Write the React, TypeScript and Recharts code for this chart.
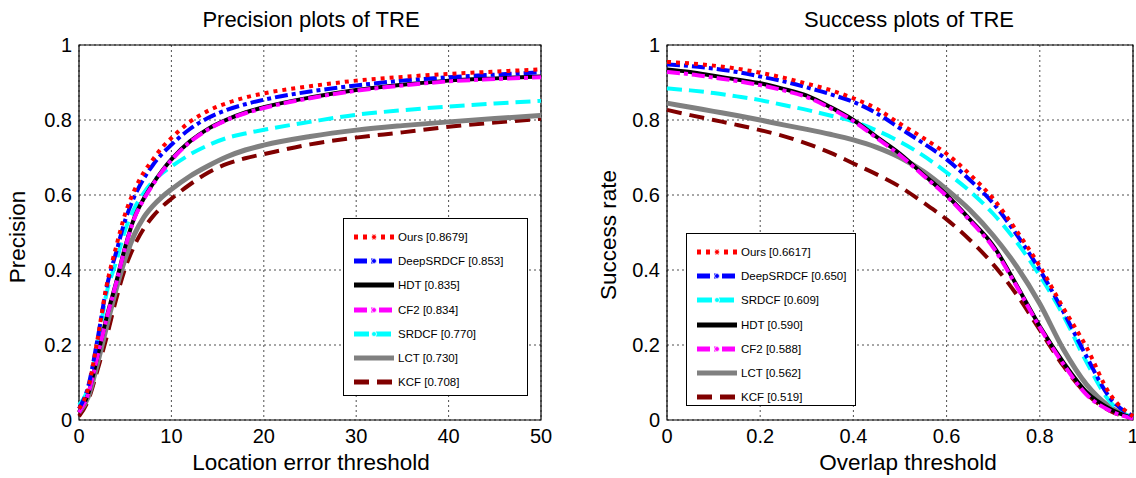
import { LineChart, Line, XAxis, YAxis, CartesianGrid, ReferenceArea } from 'recharts';

// precision plot (location error threshold, px)
const errorThresholds = [0, 1, 2, 3, 4, 5, 6, 7, 8, 9, 10, 12, 14, 16, 18, 20, 25, 30, 35, 40, 45, 50];
const precOurs = [0.03, 0.085, 0.215, 0.36, 0.46, 0.55, 0.613, 0.66, 0.695, 0.727, 0.752, 0.795, 0.825, 0.845, 0.86, 0.871, 0.89, 0.905, 0.915, 0.923, 0.929, 0.935];
const precDeep = [0.03, 0.09, 0.215, 0.355, 0.445, 0.533, 0.596, 0.643, 0.68, 0.71, 0.734, 0.776, 0.806, 0.827, 0.842, 0.854, 0.876, 0.892, 0.905, 0.914, 0.921, 0.927];
const precHdt = [0.02, 0.07, 0.17, 0.275, 0.365, 0.462, 0.54, 0.59, 0.63, 0.665, 0.695, 0.743, 0.777, 0.801, 0.82, 0.834, 0.86, 0.88, 0.894, 0.905, 0.911, 0.916];
const precCf2 = [0.02, 0.07, 0.17, 0.272, 0.363, 0.46, 0.538, 0.588, 0.628, 0.663, 0.693, 0.741, 0.775, 0.8, 0.818, 0.832, 0.858, 0.878, 0.892, 0.903, 0.909, 0.914];
const precSrdcf = [0.04, 0.085, 0.2, 0.34, 0.42, 0.507, 0.565, 0.605, 0.636, 0.658, 0.676, 0.708, 0.733, 0.752, 0.764, 0.774, 0.795, 0.814, 0.826, 0.836, 0.844, 0.851];
const precLct = [0.02, 0.062, 0.151, 0.25, 0.347, 0.43, 0.495, 0.54, 0.571, 0.595, 0.615, 0.65, 0.678, 0.702, 0.72, 0.733, 0.756, 0.773, 0.785, 0.795, 0.804, 0.812];
const precKcf = [0.01, 0.053, 0.133, 0.222, 0.32, 0.405, 0.465, 0.51, 0.543, 0.569, 0.59, 0.628, 0.66, 0.683, 0.698, 0.709, 0.735, 0.753, 0.767, 0.782, 0.793, 0.803];

// success plot (overlap threshold)
const overlapThresholds = [0, 0.05, 0.1, 0.15, 0.2, 0.25, 0.3, 0.35, 0.4, 0.45, 0.5, 0.55, 0.6, 0.65, 0.7, 0.75, 0.8, 0.85, 0.9, 0.95, 1];
const succOurs = [0.955, 0.951, 0.945, 0.937, 0.926, 0.913, 0.897, 0.88, 0.858, 0.83, 0.79, 0.752, 0.71, 0.655, 0.59, 0.505, 0.41, 0.3, 0.195, 0.07, 0.01];
const succDeep = [0.948, 0.944, 0.937, 0.928, 0.916, 0.903, 0.887, 0.869, 0.848, 0.818, 0.778, 0.738, 0.695, 0.64, 0.578, 0.495, 0.4, 0.29, 0.17, 0.06, 0.01];
const succSrdcf = [0.884, 0.879, 0.872, 0.863, 0.853, 0.84, 0.827, 0.812, 0.796, 0.772, 0.742, 0.705, 0.66, 0.61, 0.55, 0.475, 0.385, 0.28, 0.155, 0.05, 0.005];
const succHdt = [0.935, 0.928, 0.918, 0.908, 0.898, 0.883, 0.865, 0.835, 0.8, 0.755, 0.71, 0.655, 0.6, 0.535, 0.465, 0.36, 0.25, 0.155, 0.075, 0.03, 0.005];
const succCf2 = [0.928, 0.922, 0.913, 0.904, 0.893, 0.879, 0.861, 0.832, 0.797, 0.752, 0.706, 0.652, 0.597, 0.532, 0.46, 0.357, 0.247, 0.15, 0.068, 0.025, 0.004];
const succLct = [0.845, 0.834, 0.823, 0.812, 0.8, 0.787, 0.775, 0.762, 0.747, 0.727, 0.7, 0.663, 0.615, 0.56, 0.492, 0.41, 0.31, 0.19, 0.095, 0.035, 0.005];
const succKcf = [0.827, 0.813, 0.8, 0.787, 0.773, 0.757, 0.737, 0.713, 0.684, 0.655, 0.622, 0.58, 0.535, 0.48, 0.415, 0.335, 0.24, 0.145, 0.07, 0.025, 0.004];

const precisionLegend = ['Ours [0.8679]', 'DeepSRDCF [0.853]', 'HDT [0.835]', 'CF2 [0.834]', 'SRDCF [0.770]', 'LCT [0.730]', 'KCF [0.708]'];
const successLegend = ['Ours [0.6617]', 'DeepSRDCF [0.650]', 'SRDCF [0.609]', 'HDT [0.590]', 'CF2 [0.588]', 'LCT [0.562]', 'KCF [0.519]'];

const FONT = '"Liberation Sans", Arial, Helvetica, sans-serif';

type Style = { color: string; dash?: string; width: number; marker?: boolean };

const styles: Record<string, Style> = {
  ours: { color: '#ff0000', dash: '4 5', width: 4, marker: true },
  deep: { color: '#0000ff', dash: '13 4 4 4', width: 4, marker: true },
  hdt: { color: '#000000', width: 4 },
  cf2: { color: '#ff00ff', dash: '13 4 4 4', width: 4, marker: true },
  srdcf: { color: '#00ffff', dash: '15 7', width: 4, marker: true },
  lct: { color: '#808080', width: 5 },
  kcf: { color: '#800000', dash: '15 8', width: 4 },
};

// bottom-most first so "Ours" ends up on top
const drawOrder = ['kcf', 'lct', 'srdcf', 'hdt', 'cf2', 'deep', 'ours'];

const precisionData = errorThresholds.map((x, i) => ({
  x,
  ours: precOurs[i],
  deep: precDeep[i],
  hdt: precHdt[i],
  cf2: precCf2[i],
  srdcf: precSrdcf[i],
  lct: precLct[i],
  kcf: precKcf[i],
}));

const successData = overlapThresholds.map((x, i) => ({
  x,
  ours: succOurs[i],
  deep: succDeep[i],
  hdt: succHdt[i],
  cf2: succCf2[i],
  srdcf: succSrdcf[i],
  lct: succLct[i],
  kcf: succKcf[i],
}));

const tickStyle = { fill: '#000', fontSize: 20, fontFamily: FONT };

function LegendBox({ left, top, width, height, labels, keys }: {
  left: number; top: number; width: number; height: number; labels: string[]; keys: string[];
}) {
  return (
    <div
      style={{
        position: 'absolute',
        left,
        top,
        width,
        height,
        boxSizing: 'border-box',
        border: '1.5px solid #000',
        background: '#fff',
        paddingTop: 6,
      }}
    >
      {labels.map((label, i) => {
        const s = styles[keys[i]];
        return (
          <div key={label} style={{ display: 'flex', alignItems: 'center', height: 24.2 }}>
            <svg width={48} height={10} style={{ marginLeft: 8, flex: 'none' }}>
              <line x1={2} y1={5} x2={42} y2={5} stroke={s.color} strokeWidth={5} strokeDasharray={s.dash} />
              {s.marker && <circle cx={22} cy={5} r={2.5} fill={s.color} stroke="#fff" strokeWidth={0.8} />}
            </svg>
            <span style={{ fontSize: 11.5, fontFamily: FONT, color: '#000', marginLeft: -2 }}>{label}</span>
          </div>
        );
      })}
    </div>
  );
}

function Plot({ data, xMax, xTicks, margin, width }: {
  data: Record<string, number>[];
  xMax: number;
  xTicks: number[];
  margin: { top: number; right: number; bottom: number; left: number };
  width: number;
}) {
  return (
    <LineChart width={width} height={478} data={data} margin={margin}>
      <CartesianGrid stroke="#222" strokeDasharray="2 3" strokeWidth={0.8} />
      <XAxis
        dataKey="x"
        type="number"
        domain={[0, xMax]}
        ticks={xTicks}
        height={58}
        tickSize={0}
        tickMargin={9}
        tick={tickStyle}
        axisLine={false}
        interval={0}
      />
      <YAxis
        type="number"
        domain={[0, 1]}
        ticks={[0, 0.2, 0.4, 0.6, 0.8, 1]}
        width={31}
        tickSize={0}
        tickMargin={7}
        tick={tickStyle}
        axisLine={false}
        interval={0}
      />
      {drawOrder.map((k) => (
        <Line
          key={k}
          type="monotone"
          dataKey={k}
          stroke={styles[k].color}
          strokeWidth={styles[k].width}
          strokeDasharray={styles[k].dash}
          dot={false}
          isAnimationActive={false}
        />
      ))}
      <ReferenceArea x1={0} x2={xMax} y1={0} y2={1} fill="none" stroke="#000" strokeWidth={1.2} />
    </LineChart>
  );
}

const textBase = { position: 'absolute' as const, fontFamily: FONT, color: '#000', whiteSpace: 'nowrap' as const };

export default function App() {
  return (
    <div style={{ position: 'absolute', left: 0, top: 0, width: 1136, height: 478, background: '#fff', overflow: 'hidden' }}>
      <div style={{ position: 'absolute', left: 0, top: 0 }}>
        <Plot
          data={precisionData}
          xMax={50}
          xTicks={[0, 10, 20, 30, 40, 50]}
          width={570}
          margin={{ top: 45, right: 29, bottom: 0, left: 48 }}
        />
      </div>
      <div style={{ position: 'absolute', left: 580, top: 0 }}>
        <Plot
          data={successData}
          xMax={1}
          xTicks={[0, 0.2, 0.4, 0.6, 0.8, 1]}
          width={556}
          margin={{ top: 45, right: 3, bottom: 0, left: 56 }}
        />
      </div>

      <div style={{ ...textBase, left: 311, top: 20, fontSize: 22, transform: 'translate(-50%, -50%)' }}>Precision plots of TRE</div>
      <div style={{ ...textBase, left: 909, top: 20, fontSize: 22, transform: 'translate(-50%, -50%)' }}>Success plots of TRE</div>
      <div style={{ ...textBase, left: 311, top: 463, fontSize: 22.5, transform: 'translate(-50%, -50%)' }}>Location error threshold</div>
      <div style={{ ...textBase, left: 908, top: 463, fontSize: 22.5, transform: 'translate(-50%, -50%)' }}>Overlap threshold</div>
      <div style={{ ...textBase, left: 18, top: 237, fontSize: 22.5, transform: 'translate(-50%, -50%) rotate(-90deg)' }}>Precision</div>
      <div style={{ ...textBase, left: 609, top: 235, fontSize: 22.5, transform: 'translate(-50%, -50%) rotate(-90deg)' }}>Success rate</div>

      <LegendBox
        left={343}
        top={218}
        width={185}
        height={178}
        labels={precisionLegend}
        keys={['ours', 'deep', 'hdt', 'cf2', 'srdcf', 'lct', 'kcf']}
      />
      <LegendBox
        left={686}
        top={233}
        width={170}
        height={173}
        labels={successLegend}
        keys={['ours', 'deep', 'srdcf', 'hdt', 'cf2', 'lct', 'kcf']}
      />
    </div>
  );
}
